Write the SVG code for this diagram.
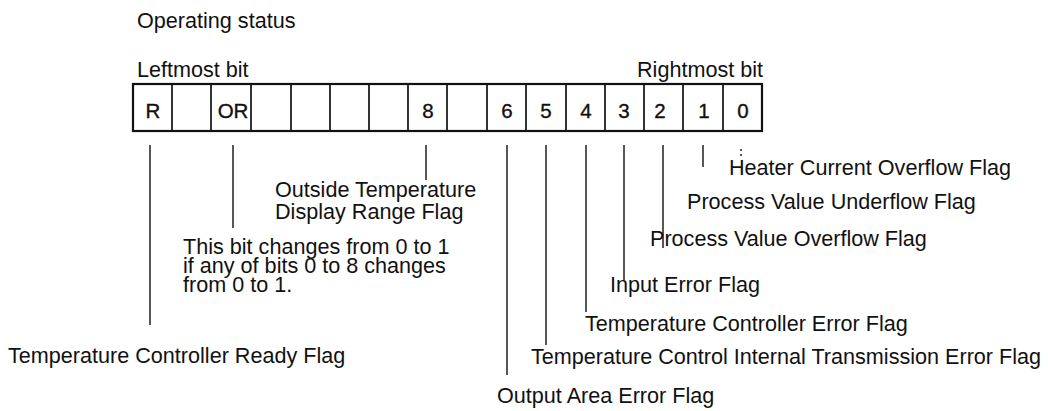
<svg xmlns="http://www.w3.org/2000/svg" width="1048" height="411" viewBox="0 0 1048 411">
<style>
text{font-family:"Liberation Sans",Arial,sans-serif;font-size:21.6px;fill:#111}
.d{font-size:20.5px;text-anchor:middle;stroke:#111;stroke-width:0.35}
.reg{fill:#fff;stroke:#111;stroke-width:2.2}
.div{stroke:#111;stroke-width:1.7}
.ld{stroke:#111;stroke-width:1.4;fill:none}
</style>
<rect width="1048" height="411" fill="#fff"/>
<text x="137" y="28">Operating status</text>
<text x="137" y="77">Leftmost bit</text>
<text x="763" y="77" text-anchor="end">Rightmost bit</text>
<g id="register">
<rect class="reg" x="133" y="84" width="629" height="47"/>
<path class="div" d="M172,84V131M211,84V131M251,84V131M291,84V131M330,84V131M369,84V131M408,84V131M447,84V131M487,84V131M526,84V131M566,84V131M605,84V131M644,84V131M683,84V131M723,84V131"/>
<text class="d" x="153" y="118">R</text>
<text class="d" x="233" y="118">OR</text>
<text class="d" x="428" y="118">8</text>
<text class="d" x="507" y="118">6</text>
<text class="d" x="546" y="118">5</text>
<text class="d" x="586" y="118">4</text>
<text class="d" x="624" y="118">3</text>
<text class="d" x="660" y="118">2</text>
<text class="d" x="704" y="118">1</text>
<text class="d" x="743" y="118">0</text>
</g>
<g id="connectors">
<path class="ld" d="M150,145V325M233,145V228M426,145V180M507,145V375M546,145V345M586,145V312M624,145V280M663,145V248M703,145V167"/>
<path class="ld" d="M741,149V151M741,154V156"/>
</g>
<g id="n-ready"><text x="8" y="363">Temperature Controller Ready Flag</text></g>
<g id="n-or"><text x="183" y="254">This bit changes from 0 to 1</text><text x="183" y="273">if any of bits 0 to 8 changes</text><text x="183" y="292">from 0 to 1.</text></g>
<g id="n-range"><text x="275" y="197">Outside Temperature</text><text x="275" y="219">Display Range Flag</text></g>
<g id="n-out"><text x="497" y="403">Output Area Error Flag</text></g>
<g id="n-tcit"><text x="531" y="364">Temperature Control Internal Transmission Error Flag</text></g>
<g id="n-tce"><text x="585" y="331">Temperature Controller Error Flag</text></g>
<g id="n-input"><text x="610" y="292">Input Error Flag</text></g>
<g id="n-pvo"><text x="650" y="246">Process Value Overflow Flag</text></g>
<g id="n-pvu"><text x="687" y="209">Process Value Underflow Flag</text></g>
<g id="n-heat"><text x="729" y="175">Heater Current Overflow Flag</text></g>
</svg>
